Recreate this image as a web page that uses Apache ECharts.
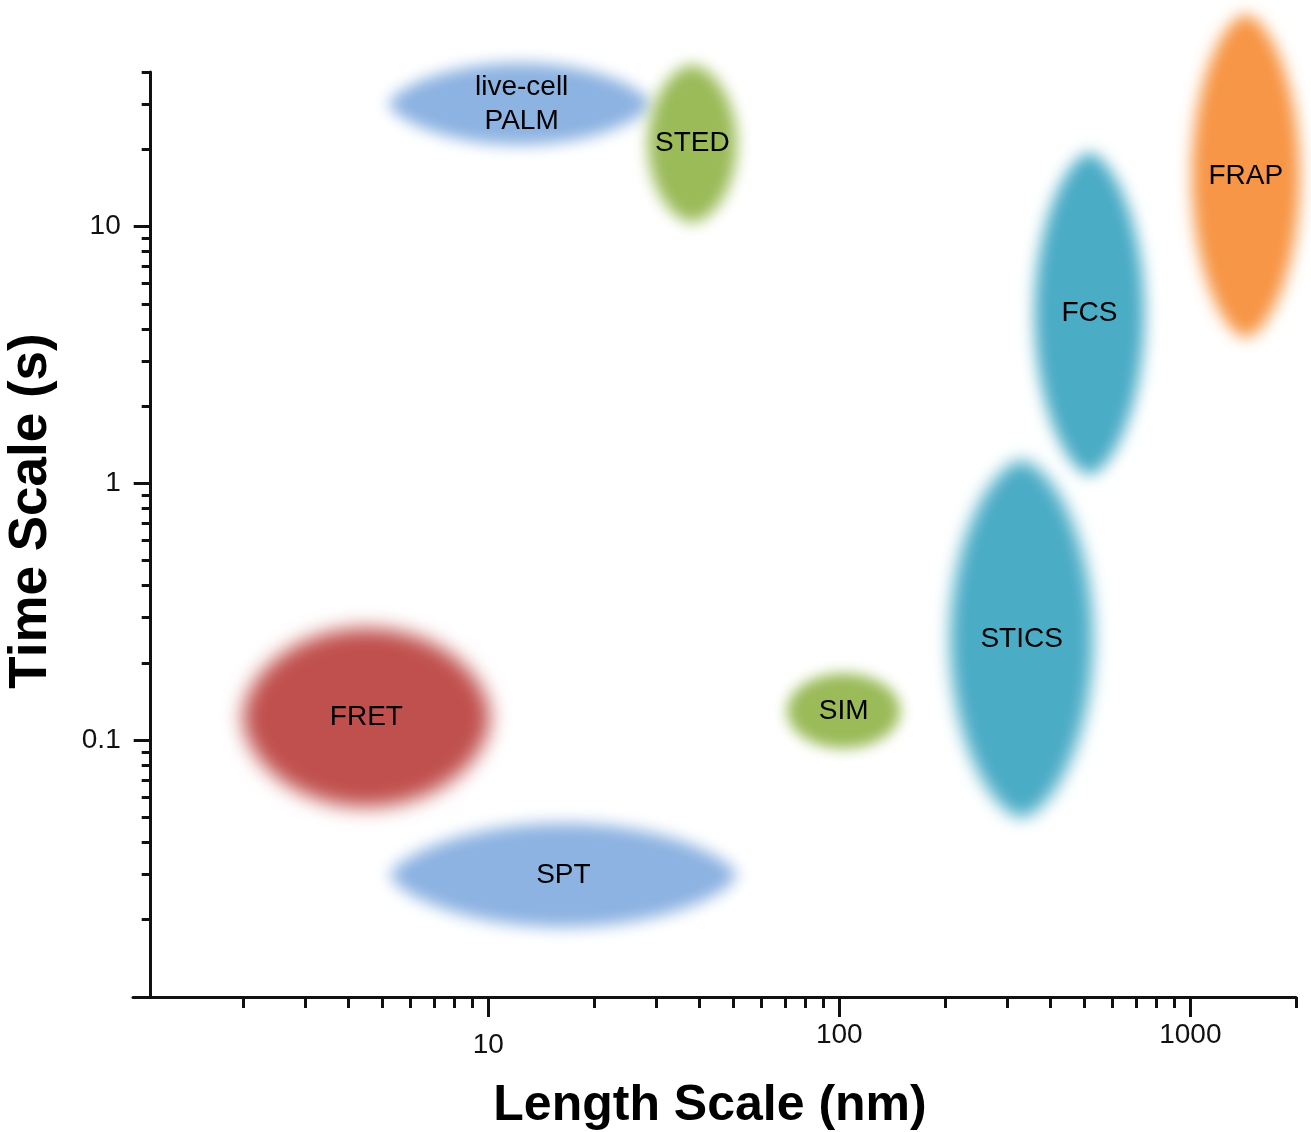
<!DOCTYPE html>
<html>
<head>
<meta charset="utf-8">
<script src="https://cdn.jsdelivr.net/npm/echarts@6/dist/echarts.min.js"></script>
<style>
html,body{margin:0;padding:0;background:#ffffff;}
#chart{width:1311px;height:1132px;}
</style>
</head>
<body>
<div id="chart"></div>
<script>
// ---------- data ----------
const methods   = ['live-cell\nPALM', 'STED', 'FRAP', 'FCS', 'STICS', 'SIM', 'FRET', 'SPT'];
const lengthMin = [5.2, 28.5, 1010, 360, 207, 71, 2.0, 5.25];     // nm
const lengthMax = [29, 51, 2050, 740, 528, 149, 10.1, 51];        // nm
const timeMin   = [20.8, 10.4, 3.7, 1.08, 0.05, 0.093, 0.055, 0.0187]; // s
const timeMax   = [43.4, 42.6, 67, 19.4, 1.23, 0.182, 0.273, 0.0475];  // s

const xMajorTicks = [10, 100, 1000];
const xMinorTicks = [2, 3, 4, 5, 6, 7, 8, 9, 20, 30, 40, 50, 60, 70, 80, 90,
                     200, 300, 400, 500, 600, 700, 800, 900, 2000];
const yMajorTicks = [0.1, 1, 10];
const yMinorTicks = [0.02, 0.03, 0.04, 0.05, 0.06, 0.07, 0.08, 0.09,
                     0.2, 0.3, 0.4, 0.5, 0.6, 0.7, 0.8, 0.9,
                     2, 3, 4, 5, 6, 7, 8, 9, 20, 30, 40];

// ---------- styles ----------
const colors    = ['#8DB3E2', '#9BBB59', '#F79646', '#4BACC6', '#4BACC6', '#9BBB59', '#C0504D', '#8DB3E2'];
const pointness = [0.68, 0.58, 0.6, 0.62, 0.62, 0.5, 0.55, 0.68];
const blurs     = [15, 15, 16, 16, 17, 14, 20, 16];
const FONT = '"Liberation Sans", Arial, Helvetica, sans-serif';
const OFF = 4000;

const chart = echarts.init(document.getElementById('chart'), null, {renderer: 'canvas'});

function renderItem(params, api) {
  const i = params.dataIndex;
  const a = api.coord([api.value(0), api.value(2)]);
  const b = api.coord([api.value(1), api.value(3)]);
  const cx = (a[0] + b[0]) / 2, cy = (a[1] + b[1]) / 2;
  const rx = Math.abs(b[0] - a[0]) / 2, ry = Math.abs(b[1] - a[1]) / 2;
  const horiz = rx >= ry;
  const k = pointness[i];
  const N = 240, pts = [];
  for (let j = 0; j < N; j++) {
    const t = j / N * Math.PI * 2;
    const s = Math.cos(t), sn = Math.sin(t);
    const w = Math.sign(sn) * Math.pow(Math.abs(sn), 2 * k);
    let px, py;
    if (horiz) { px = cx + rx * s; py = cy + ry * w; }
    else { px = cx + rx * w; py = cy + ry * s; }
    pts.push([px - OFF, py]);
  }
  return {
    type: 'group',
    children: [
      {
        type: 'polygon',
        silent: true,
        shape: {points: pts},
        style: {
          fill: colors[i],
          shadowColor: colors[i],
          shadowBlur: blurs[i],
          shadowOffsetX: OFF,
          shadowOffsetY: 0
        }
      },
      {
        type: 'text',
        silent: true,
        style: {
          text: methods[i],
          x: cx + (horiz && i === 0 ? 2 : 0),
          y: cy,
          fill: '#000',
          fontSize: 28,
          fontFamily: FONT,
          align: 'center',
          verticalAlign: 'middle',
          lineHeight: 34
        }
      }
    ]
  };
}

const axisLineStyle = {color: '#111', width: 3};

const option = {
  animation: false,
  backgroundColor: '#ffffff',
  grid: {left: 133, right: 15, top: 72, bottom: 135, containLabel: false, outerBoundsMode: 'none'},
  xAxis: [
    {
      type: 'log', logBase: 10, min: 0.972, max: 2000, position: 'bottom',
      name: 'Length Scale (nm)', nameLocation: 'middle', nameGap: 84,
      nameTextStyle: {fontSize: 50, fontWeight: 'bold', color: '#000', fontFamily: FONT, padding: [0, 9, 0, 0]},
      axisLine: {show: true, onZero: false, lineStyle: axisLineStyle},
      axisTick: {show: true, inside: false, length: 20, customValues: xMajorTicks, lineStyle: axisLineStyle},
      axisLabel: {
        customValues: xMajorTicks, margin: 24, color: '#111', fontSize: 28, fontFamily: FONT,
        formatter: function (v) { return v === 10 ? '{low|10}' : '{n|' + v + '}'; },
        rich: {
          low: {fontSize: 28, fontFamily: FONT, color: '#111', padding: [10, 0, 0, 0]},
          n: {fontSize: 28, fontFamily: FONT, color: '#111'}
        }
      },
      splitLine: {show: false}, minorTick: {show: false}
    },
    {
      type: 'log', logBase: 10, min: 0.972, max: 2000, position: 'bottom',
      axisLine: {show: false, onZero: false},
      axisTick: {show: true, inside: false, length: 11, customValues: xMinorTicks, lineStyle: axisLineStyle},
      axisLabel: {show: false},
      splitLine: {show: false}, minorTick: {show: false}
    }
  ],
  yAxis: [
    {
      type: 'log', logBase: 10, min: 0.01, max: 40, position: 'left', offset: -17.7,
      name: 'Time Scale (s)', nameLocation: 'middle', nameGap: 93, nameRotate: 90,
      nameTextStyle: {fontSize: 53, fontWeight: 'bold', color: '#000', fontFamily: FONT, padding: [0, 0, 0, 47]},
      axisLine: {show: true, onZero: false, lineStyle: axisLineStyle},
      axisTick: {show: true, inside: false, length: 17, customValues: yMajorTicks, lineStyle: axisLineStyle},
      axisLabel: {
        customValues: yMajorTicks, margin: 30, color: '#111', fontSize: 28, fontFamily: FONT,
        formatter: function (v) { return String(v); }
      },
      splitLine: {show: false}, minorTick: {show: false}
    },
    {
      type: 'log', logBase: 10, min: 0.01, max: 40, position: 'left', offset: -17.7,
      axisLine: {show: false, onZero: false},
      axisTick: {show: true, inside: false, length: 9, customValues: yMinorTicks, lineStyle: axisLineStyle},
      axisLabel: {show: false},
      splitLine: {show: false}, minorTick: {show: false}
    }
  ],
  series: [
    {
      type: 'custom',
      xAxisIndex: 0,
      yAxisIndex: 0,
      silent: true,
      clip: false,
      renderItem: renderItem,
      encode: {x: [0, 1], y: [2, 3]},
      data: methods.map(function (m, i) {
        return [lengthMin[i], lengthMax[i], timeMin[i], timeMax[i]];
      })
    }
  ]
};

chart.setOption(option);
</script>
</body>
</html>
